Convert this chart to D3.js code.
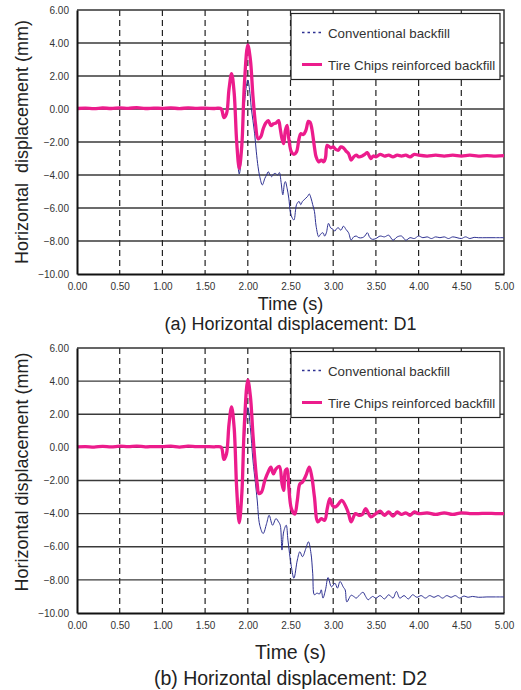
<!DOCTYPE html>
<html>
<head>
<meta charset="utf-8">
<script src="https://cdn.jsdelivr.net/npm/d3@7"></script>
<style>
  body { margin: 0; background: #fff; }
  text { font-family: "Liberation Sans", Arial, sans-serif; }
</style>
</head>
<body>
<div id="chart"></div>
<script>
// tick values
var timeTicks = [0, 0.5, 1, 1.5, 2, 2.5, 3, 3.5, 4, 4.5, 5];
var dispTicks = [-10, -8, -6, -4, -2, 0, 2, 4, 6];
var seriesNames = ["Conventional backfill", "Tire Chips reinforced backfill"];

// [time (s), displacement (mm)]
var calmStart = [[0, 0.03], [0.1, 0.05], [0.2, 0.02], [0.3, 0.06], [0.4, 0.03], [0.5, 0.07], [0.6, 0.04],
  [0.7, 0.08], [0.8, 0.03], [0.9, 0.05], [1.0, 0.04], [1.1, 0.07], [1.2, 0.02], [1.3, 0.07], [1.4, 0.04],
  [1.5, 0.05], [1.6, 0.03], [1.65, 0.05], [1.69, 0.0]];

var d1Conventional = calmStart.concat([[1.72, -0.5], [1.75, -0.3], [1.78, 1.1], [1.81, 2.0], [1.84, 0.9],
  [1.87, -2.2], [1.9, -3.94], [1.93, -2.5], [1.96, 0.3], [2.0, 1.76], [2.02, 1.2], [2.04, 0.1], [2.06, -0.7],
  [2.08, -1.5], [2.1, -2.6], [2.12, -3.5], [2.14, -4.1], [2.17, -4.6], [2.2, -4.2], [2.22, -4.0], [2.24, -3.8],
  [2.26, -4.0], [2.28, -4.1], [2.3, -3.95], [2.32, -3.9], [2.35, -4.0], [2.37, -3.85], [2.39, -4.45],
  [2.41, -5.2], [2.43, -4.5], [2.44, -4.4], [2.46, -4.8], [2.48, -5.4], [2.5, -6.3], [2.52, -6.6],
  [2.54, -6.73], [2.56, -6.1], [2.57, -5.8], [2.6, -5.6], [2.62, -5.8], [2.64, -5.6], [2.66, -5.5],
  [2.68, -5.4], [2.7, -5.3], [2.72, -5.15], [2.74, -5.4], [2.76, -5.8], [2.78, -6.2], [2.8, -7.1],
  [2.83, -7.74], [2.85, -7.6], [2.88, -7.5], [2.9, -7.7], [2.92, -7.5], [2.945, -6.93], [2.97, -7.2],
  [3.0, -7.3], [3.02, -7.4], [3.04, -7.25], [3.06, -7.2], [3.09, -7.35], [3.12, -7.1], [3.15, -7.3],
  [3.18, -7.5], [3.21, -7.94], [3.24, -7.75], [3.27, -7.7], [3.3, -7.8], [3.34, -7.8], [3.37, -7.7],
  [3.4, -7.5], [3.43, -7.8], [3.46, -7.9], [3.5, -7.85], [3.55, -7.7], [3.6, -7.75], [3.65, -7.65],
  [3.7, -7.95], [3.75, -7.75], [3.8, -7.7], [3.85, -7.95], [3.9, -7.8], [3.95, -7.85], [4.0, -7.7],
  [4.05, -7.8], [4.1, -7.75], [4.15, -7.85], [4.2, -7.75], [4.25, -7.8], [4.3, -7.75], [4.35, -7.85],
  [4.4, -7.75], [4.45, -7.8], [4.5, -7.85], [4.55, -7.75], [4.6, -7.85], [4.65, -7.78], [4.7, -7.8],
  [4.8, -7.8], [4.9, -7.8], [5.0, -7.8]]);

var d1TireChips = calmStart.concat([[1.72, -0.52], [1.75, -0.3], [1.78, 1.2], [1.81, 2.15], [1.84, 1.0],
  [1.87, -2.0], [1.9, -3.6], [1.93, -2.2], [1.96, 1.5], [2.0, 3.88], [2.03, 3.0], [2.06, 0.8], [2.09, -0.9],
  [2.12, -1.8], [2.15, -1.7], [2.18, -1.2], [2.21, -0.85], [2.24, -0.7], [2.27, -1.0], [2.3, -0.9],
  [2.33, -0.85], [2.36, -0.7], [2.38, -1.2], [2.4, -1.8], [2.42, -2.1], [2.44, -1.3], [2.46, -1.0],
  [2.48, -1.8], [2.51, -2.6], [2.54, -2.75], [2.57, -2.6], [2.6, -1.8], [2.62, -1.5], [2.65, -1.55],
  [2.68, -1.3], [2.71, -0.75], [2.73, -0.8], [2.75, -1.2], [2.78, -2.3], [2.8, -2.9], [2.83, -3.2],
  [2.86, -3.1], [2.89, -3.2], [2.91, -2.95], [2.93, -2.2], [2.97, -2.35], [3.0, -2.3], [3.03, -2.45],
  [3.06, -2.5], [3.09, -2.3], [3.12, -2.35], [3.15, -2.55], [3.18, -2.7], [3.21, -3.1], [3.24, -2.9],
  [3.27, -2.8], [3.3, -2.9], [3.34, -2.85], [3.37, -2.75], [3.4, -2.65], [3.44, -3.0], [3.47, -2.85],
  [3.5, -2.9], [3.55, -2.75], [3.6, -2.85], [3.65, -2.8], [3.7, -2.9], [3.75, -2.8], [3.8, -2.85],
  [3.85, -2.8], [3.9, -2.9], [3.95, -2.75], [4.0, -2.8], [4.1, -2.85], [4.2, -2.8], [4.3, -2.85],
  [4.4, -2.8], [4.5, -2.85], [4.6, -2.8], [4.7, -2.85], [4.8, -2.82], [4.9, -2.85], [5.0, -2.83]]);

var d2Conventional = calmStart.concat([[1.72, -0.7], [1.75, -0.4], [1.78, 1.3], [1.81, 2.3], [1.84, 1.1],
  [1.87, -2.3], [1.9, -4.3], [1.93, -2.7], [1.96, 0.5], [2.0, 2.4], [2.03, 1.2], [2.06, -0.77], [2.09, -2.2],
  [2.11, -3.18], [2.14, -4.7], [2.18, -5.2], [2.22, -4.6], [2.25, -4.1], [2.29, -4.7], [2.33, -4.3],
  [2.36, -4.5], [2.38, -4.7], [2.4, -6.2], [2.42, -5.1], [2.45, -4.7], [2.47, -5.6], [2.51, -7.2],
  [2.54, -7.9], [2.58, -6.8], [2.61, -6.3], [2.64, -6.6], [2.68, -6.1], [2.71, -5.7], [2.74, -6.4],
  [2.76, -7.6], [2.78, -8.9], [2.81, -8.8], [2.84, -8.85], [2.86, -8.6], [2.88, -9.1], [2.91, -8.6],
  [2.94, -7.86], [2.98, -8.42], [3.02, -8.2], [3.05, -8.5], [3.08, -8.1], [3.12, -8.45], [3.14, -8.6],
  [3.16, -9.33], [3.21, -8.93], [3.24, -9.0], [3.27, -9.1], [3.31, -8.9], [3.35, -8.75], [3.38, -9.0],
  [3.41, -9.2], [3.46, -9.0], [3.5, -9.1], [3.55, -8.95], [3.6, -9.15], [3.65, -8.9], [3.7, -9.1],
  [3.74, -8.7], [3.78, -9.1], [3.83, -8.95], [3.88, -9.15], [3.93, -8.9], [3.98, -9.05], [4.03, -8.95],
  [4.08, -9.1], [4.13, -8.95], [4.18, -9.05], [4.23, -8.95], [4.28, -9.1], [4.33, -8.95], [4.38, -9.05],
  [4.43, -8.95], [4.48, -9.1], [4.53, -8.98], [4.58, -9.05], [4.63, -9.0], [4.7, -9.05], [4.8, -9.03],
  [4.9, -9.03], [5.0, -9.03]]);

var d2TireChips = calmStart.concat([[1.72, -0.73], [1.75, -0.4], [1.78, 1.4], [1.81, 2.45], [1.84, 1.2],
  [1.87, -2.5], [1.9, -4.55], [1.93, -2.8], [1.96, 1.4], [2.0, 4.07], [2.03, 3.1], [2.06, 0.8], [2.09, -1.2],
  [2.11, -2.2], [2.13, -2.78], [2.16, -2.7], [2.2, -1.98], [2.24, -1.47], [2.27, -1.2], [2.3, -1.6],
  [2.33, -1.3], [2.37, -1.15], [2.4, -2.18], [2.42, -2.6], [2.44, -1.4], [2.46, -1.3], [2.48, -2.4],
  [2.51, -3.69], [2.55, -4.03], [2.58, -3.2], [2.61, -2.2], [2.64, -2.1], [2.68, -1.7], [2.72, -1.2],
  [2.75, -1.8], [2.78, -2.98], [2.82, -4.5], [2.86, -4.3], [2.9, -4.4], [2.93, -3.7], [2.96, -3.1],
  [2.99, -3.5], [3.02, -3.6], [3.05, -3.5], [3.1, -3.2], [3.15, -3.6], [3.18, -4.0], [3.21, -4.5],
  [3.26, -4.0], [3.3, -4.1], [3.34, -4.05], [3.38, -3.7], [3.41, -3.95], [3.44, -4.2], [3.5, -4.0],
  [3.55, -3.85], [3.6, -4.1], [3.65, -3.9], [3.7, -4.15], [3.75, -3.9], [3.8, -4.05], [3.85, -3.95],
  [3.9, -4.1], [3.95, -3.9], [4.0, -4.0], [4.1, -3.95], [4.2, -4.05], [4.3, -3.95], [4.4, -4.05],
  [4.5, -3.95], [4.6, -4.0], [4.7, -4.0], [4.8, -3.98], [4.9, -4.0], [5.0, -4.0]]);

var svg = d3.select('#chart').append('svg')
    .attr('width', 521)
    .attr('height', 690);

function drawPanel(options) {
    const {
        conventional,
        tireChips,
        top,
        bottom,
        left = 77,
        right = 504,
        yLabel,
        yLabelCenter,
        titleSize = 19.5,
        timeBaseline,
        caption,
        captionBaseline
    } = options;

    var x = d3.scaleLinear().domain([0, 5]).range([left, right]);
    var y = d3.scaleLinear().domain([-10, 6]).range([bottom, top]);

    var g = svg.append('g');

    // horizontal grid
    g.selectAll('.hgrid')
        .data(dispTicks.slice(1, -1))
        .enter().append('line')
        .attr('x1', left).attr('x2', right)
        .attr('y1', d => y(d)).attr('y2', d => y(d))
        .attr('stroke', '#3a3a3a')
        .attr('stroke-width', 1.3);

    // vertical dashed grid
    g.selectAll('.vgrid')
        .data(timeTicks.slice(1, -1))
        .enter().append('line')
        .attr('x1', d => x(d)).attr('x2', d => x(d))
        .attr('y1', top).attr('y2', bottom)
        .attr('stroke', '#222')
        .attr('stroke-width', 1.2)
        .attr('stroke-dasharray', '6,4');

    // frame top/right
    g.append('path')
        .attr('d', `M${left},${top}H${right}V${bottom}`)
        .attr('fill', 'none')
        .attr('stroke', '#333')
        .attr('stroke-width', 1.5);

    var line = d3.line()
        .x(d => x(d[0]))
        .y(d => y(d[1]))
        .curve(d3.curveCatmullRom.alpha(0.5));

    g.append('path')
        .datum(conventional)
        .attr('d', line)
        .attr('fill', 'none')
        .attr('stroke', '#2e3192')
        .attr('stroke-width', 1);

    g.append('path')
        .datum(tireChips)
        .attr('d', line)
        .attr('fill', 'none')
        .attr('stroke', '#ec1c8c')
        .attr('stroke-width', 3.3)
        .attr('stroke-linejoin', 'round');

    // axes
    var yAxis = g.append('g')
        .attr('transform', `translate(${left},0)`)
        .call(d3.axisLeft(y).tickValues(dispTicks).tickFormat(d3.format('.2f')).tickSize(0).tickPadding(8));
    var xAxis = g.append('g')
        .attr('transform', `translate(0,${bottom})`)
        .call(d3.axisBottom(x).tickValues(timeTicks).tickFormat(d3.format('.2f')).tickSize(0).tickPadding(9));

    [yAxis, xAxis].forEach(a => {
        a.select('.domain').attr('stroke', '#111').attr('stroke-width', 2);
        a.selectAll('text')
            .attr('fill', '#333')
            .style('font-size', '10px')
            .style('font-family', '"Liberation Sans", Arial, sans-serif');
    });

    // legend
    var lg = g.append('g').attr('transform', `translate(291,${top + 3.5})`);
    lg.append('rect')
        .attr('width', 209).attr('height', 66)
        .attr('fill', '#fff')
        .attr('stroke', '#222')
        .attr('stroke-width', 1.2);
    var rows = [
        { name: seriesNames[0], color: '#2e3192', width: 1.6, dash: '2.5,3', cy: 19 },
        { name: seriesNames[1], color: '#ec1c8c', width: 3, dash: null, cy: 51 }
    ];
    rows.forEach(r => {
        lg.append('line')
            .attr('x1', 11).attr('x2', 31)
            .attr('y1', r.cy).attr('y2', r.cy)
            .attr('stroke', r.color)
            .attr('stroke-width', r.width)
            .attr('stroke-dasharray', r.dash);
        lg.append('text')
            .attr('x', 37).attr('y', r.cy + 5)
            .attr('fill', '#333')
            .style('font-size', '13.3px')
            .text(r.name);
    });

    // titles
    svg.append('text')
        .attr('transform', `translate(28,${yLabelCenter}) rotate(-90)`)
        .attr('text-anchor', 'middle')
        .attr('fill', '#222')
        .style('font-size', '18px')
        .style('white-space', 'pre')
        .text(yLabel);

    svg.append('text')
        .attr('x', (left + right) / 2).attr('y', timeBaseline)
        .attr('text-anchor', 'middle')
        .attr('fill', '#222')
        .style('font-size', titleSize + 'px')
        .text('Time (s)');

    svg.append('text')
        .attr('x', (left + right) / 2).attr('y', captionBaseline)
        .attr('text-anchor', 'middle')
        .attr('fill', '#222')
        .style('font-size', titleSize + 'px')
        .text(caption);
}

drawPanel({
    conventional: d1Conventional,
    tireChips: d1TireChips,
    top: 10,
    bottom: 274,
    yLabel: 'Horizontal  displacement (mm)',
    yLabelCenter: 142,
    titleSize: 18,
    timeBaseline: 309.5,
    caption: '(a) Horizontal displacement: D1',
    captionBaseline: 330
});

drawPanel({
    conventional: d2Conventional,
    tireChips: d2TireChips,
    top: 348,
    bottom: 613,
    yLabel: 'Horizontal displacement (mm)',
    yLabelCenter: 472,
    timeBaseline: 659,
    caption: '(b) Horizontal displacement: D2',
    captionBaseline: 685
});
</script>
</body>
</html>
